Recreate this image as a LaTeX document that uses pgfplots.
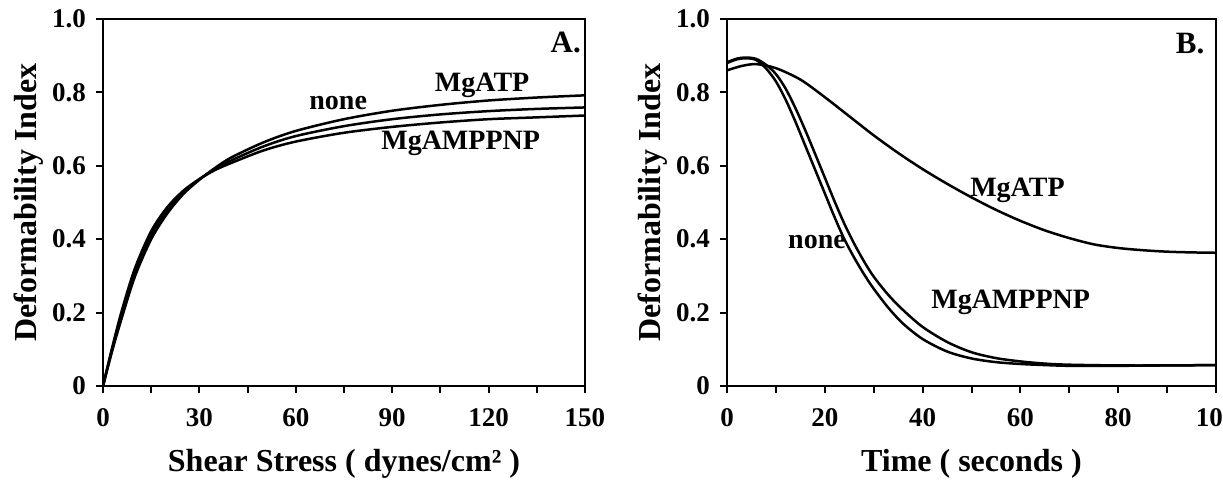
\documentclass[border=0pt]{standalone}
\usepackage{pgfplots}
\pgfplotsset{compat=1.18}
\usepackage{fontspec}
\setmainfont{Liberation Serif}

\pgfplotstableread{
x T M B
0 0 0 0
3 0.100 0.105 0.110
6 0.190 0.200 0.210
10 0.300 0.312 0.322
15 0.400 0.412 0.422
20 0.470 0.478 0.487
25 0.523 0.527 0.532
30 0.562 0.563 0.564
35 0.595 0.592 0.589
40 0.623 0.615 0.608
50 0.664 0.653 0.642
60 0.695 0.681 0.666
75 0.727 0.708 0.690
90 0.750 0.727 0.706
105 0.766 0.740 0.718
120 0.778 0.749 0.727
135 0.786 0.755 0.732
150 0.792 0.759 0.737
}\dataA

\pgfplotstableread{
x atp
0 0.860
3 0.872
6 0.877
10 0.866
15 0.835
20 0.787
25 0.735
30 0.683
35 0.635
40 0.591
45 0.551
50 0.514
55 0.480
60 0.450
65 0.424
70 0.403
75 0.386
80 0.376
85 0.370
90 0.366
95 0.364
100 0.363
}\dataBatp

\pgfplotstableread{
x none amp
0 0.880 0.882
2 0.890 0.892
4 0.893 0.895
6 0.888 0.891
8 0.865 0.875
10 0.830 0.850
12 0.780 0.810
14 0.720 0.757
16 0.655 0.697
18 0.590 0.633
20 0.525 0.568
22 0.460 0.503
24 0.400 0.442
26 0.350 0.388
28 0.305 0.340
30 0.265 0.298
33 0.213 0.248
36 0.170 0.207
40 0.128 0.161
45 0.094 0.120
50 0.075 0.092
55 0.065 0.076
60 0.060 0.067
65 0.057 0.061
70 0.055 0.058
80 0.055 0.056
90 0.056 0.056
100 0.057 0.057
}\dataBsteep

\tikzset{
  crv/.style={black, line width=1.25pt, no markers, smooth},
  ann/.style={font=\fontsize{14}{16}\selectfont\bfseries},
  pnl/.style={font=\fontsize{15.5}{18}\selectfont\bfseries},
}

\begin{document}
\begin{tikzpicture}[x=1pt,y=1pt]
\useasboundingbox (0,0) rectangle (611.5,240.5);
\pgfplotsset{
  every axis/.append style={
    scale only axis, height=183.5pt,
    anchor=south west,
    axis line style={line width=1pt},
    tick style={line width=1pt, black},
    tick align=outside,
    major tick length=3.5pt, minor tick length=3.5pt,
    xtick pos=bottom, ytick pos=left,
    ymin=0, ymax=1,
    ytick={0,0.2,0.4,0.6,0.8,1},
    yticklabels={0,0.2,0.4,0.6,0.8,1.0},
    ticklabel style={font=\fontsize{13.5}{15}\selectfont\bfseries},
    xticklabel style={yshift=-4pt},
    yticklabel style={xshift=-1.5pt},
    ylabel={Deformability Index},
    every axis x label/.style={at={(axis description cs:0.5,-0.234)}, anchor=base, font=\fontsize{16}{18}\selectfont\bfseries},
  },
}
\begin{axis}[at={(51.5pt,47.5pt)}, width=241pt,
  xmin=0, xmax=150,
  xtick={0,30,60,90,120,150}, xticklabels={0,30,60,90,120,150},
  minor xtick={15,45,75,105,135},
  xlabel={Shear Stress ( dynes/cm² )},
  every axis y label/.style={at={(axis description cs:-0.137,0.5)}, rotate=90, anchor=base, font=\fontsize{16}{18}\selectfont\bfseries}]
\addplot[crv] table[x=x,y=T] {\dataA};
\addplot[crv] table[x=x,y=M] {\dataA};
\addplot[crv] table[x=x,y=B] {\dataA};
\node[ann] at (axis cs:73.2,0.772) {none};
\node[ann] at (axis cs:118,0.819) {MgATP};
\node[ann] at (axis cs:111.3,0.662) {MgAMPPNP};
\node[pnl] at (axis cs:144,0.937) {A.};
\end{axis}
\begin{axis}[at={(363.5pt,47.5pt)}, width=244.5pt,
  xmin=0, xmax=100,
  xtick={0,20,40,60,80,100}, xticklabels={0,20,40,60,80,100},
  minor xtick={10,30,50,70,90},
  xlabel={Time ( seconds )},
  every axis y label/.style={at={(axis description cs:-0.135,0.5)}, rotate=90, anchor=base, font=\fontsize{16}{18}\selectfont\bfseries}]
\addplot[crv] table[x=x,y=atp] {\dataBatp};
\addplot[crv] table[x=x,y=none] {\dataBsteep};
\addplot[crv] table[x=x,y=amp] {\dataBsteep};
\node[ann] at (axis cs:59.4,0.534) {MgATP};
\node[ann] at (axis cs:18.4,0.392) {none};
\node[ann] at (axis cs:58,0.229) {MgAMPPNP};
\node[pnl] at (axis cs:94.7,0.932) {B.};
\end{axis}
\end{tikzpicture}
\end{document}
